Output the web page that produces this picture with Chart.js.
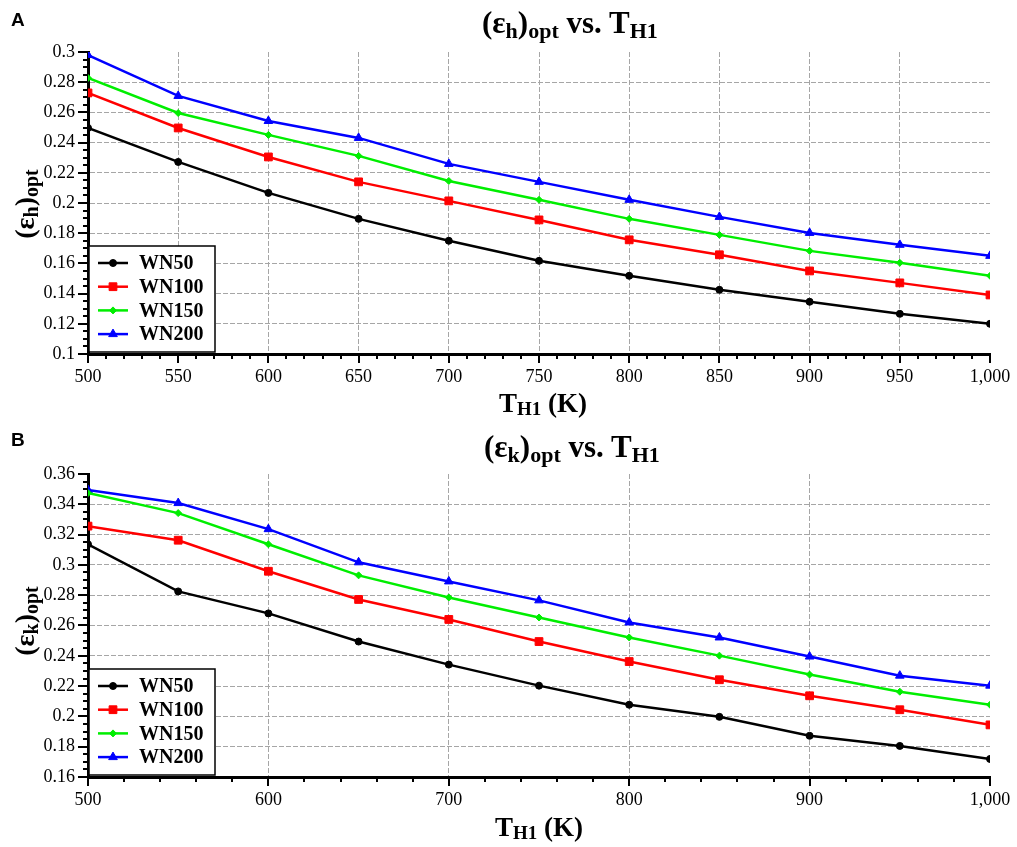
<!DOCTYPE html>
<html>
<head>
<meta charset="utf-8">
<script src="https://cdn.jsdelivr.net/npm/chart.js@4.4.1/dist/chart.umd.min.js"></script>
<style>
  body { margin: 0; background: #fff; }
  #wrap { position: relative; width: 1017px; height: 847px; overflow: hidden; }
  canvas { position: absolute; left: 0; }
  .lbl { position: absolute; white-space: nowrap; font-family: "Liberation Serif", serif; font-weight: bold; line-height: 1; color: #000; }
  .s { position: relative; }
  .panel { position: absolute; font-family: "Liberation Sans", Arial, sans-serif; font-weight: bold; font-size: 19px; line-height: 1; }
  .ytitle { position: absolute; width: 120px; height: 28px; line-height: 28px; text-align: center;
            font-family: "Liberation Serif", serif; font-weight: bold; font-size: 28px; white-space: nowrap;
            transform: translate(-50%, -50%) rotate(-90deg); }
</style>
</head>
<body>
<div id="wrap">
  <canvas id="chartA" width="1017" height="420" style="top:0"></canvas>
  <canvas id="chartB" width="1017" height="427" style="top:420px"></canvas>

  <div class="panel" style="left:11px; top:10px">A</div>
  <div class="lbl" style="left:482px; top:7px; font-size:31px">(ε<span class="s" style="font-size:22px; top:5px">h</span>)<span class="s" style="font-size:22px; top:5px">opt</span> vs. T<span class="s" style="font-size:22px; top:5px">H1</span></div>
  <div class="lbl" style="left:499px; top:390px; font-size:27px">T<span class="s" style="font-size:19px; top:3px">H1</span> (K)</div>
  <div class="ytitle" style="left:25px; top:204px">(ε<span class="s" style="font-size:20px; top:4px">h</span>)<span class="s" style="font-size:20px; top:4px">opt</span></div>

  <div class="panel" style="left:11px; top:430px">B</div>
  <div class="lbl" style="left:484px; top:431px; font-size:31px">(ε<span class="s" style="font-size:22px; top:5px">k</span>)<span class="s" style="font-size:22px; top:5px">opt</span> vs. T<span class="s" style="font-size:22px; top:5px">H1</span></div>
  <div class="lbl" style="left:495px; top:814px; font-size:27px">T<span class="s" style="font-size:19px; top:3px">H1</span> (K)</div>
  <div class="ytitle" style="left:25px; top:621px">(ε<span class="s" style="font-size:20px; top:4px">k</span>)<span class="s" style="font-size:20px; top:4px">opt</span></div>
</div>

<script>
// T_H1 in K
const tempsK = [500, 550, 600, 650, 700, 750, 800, 850, 900, 950, 1000];
const seriesNames = ["WN50", "WN100", "WN150", "WN200"];

// panel A: (eps_h)opt
const epsH_WN50  = [0.2497, 0.2272, 0.2067, 0.1895, 0.1750, 0.1617, 0.1518, 0.1425, 0.1346, 0.1266, 0.1200];
const epsH_WN100 = [0.2729, 0.2497, 0.2305, 0.2140, 0.2014, 0.1888, 0.1756, 0.1657, 0.1550, 0.1471, 0.1391];
const epsH_WN150 = [0.2828, 0.2596, 0.2451, 0.2312, 0.2146, 0.2021, 0.1895, 0.1789, 0.1683, 0.1604, 0.1518];
const epsH_WN200 = [0.2980, 0.2709, 0.2543, 0.2431, 0.2259, 0.2140, 0.2021, 0.1908, 0.1802, 0.1723, 0.1650];

// panel B: (eps_k)opt
const epsK_WN50  = [0.3136, 0.2825, 0.2680, 0.2494, 0.2342, 0.2203, 0.2077, 0.1997, 0.1872, 0.1805, 0.1719];
const epsK_WN100 = [0.3256, 0.3163, 0.2958, 0.2772, 0.2640, 0.2494, 0.2362, 0.2242, 0.2136, 0.2044, 0.1944];
const epsK_WN150 = [0.3474, 0.3342, 0.3136, 0.2931, 0.2785, 0.2653, 0.2521, 0.2401, 0.2276, 0.2163, 0.2077];
const epsK_WN200 = [0.3494, 0.3408, 0.3236, 0.3017, 0.2891, 0.2766, 0.2620, 0.2521, 0.2395, 0.2269, 0.2203];

const colors = ["#000000", "#ff0000", "#00ee00", "#0000ff"];
const markers = ["circle", "rect", "rectRot", "triangle"];
const markerSize = [3.5, 5.5, 3.5, 5];

const serif = "'Liberation Serif', 'Times New Roman', serif";

function makeDatasets(seriesList) {
  return seriesList.map((vals, i) => ({
    label: seriesNames[i],
    data: vals.map((v, j) => ({x: tempsK[j], y: v})),
    borderColor: colors[i],
    backgroundColor: colors[i],
    pointBackgroundColor: colors[i],
    pointBorderColor: colors[i],
    pointStyle: markers[i],
    pointRadius: markerSize[i],
    pointBorderWidth: 1,
    borderWidth: 2.5,
    tension: 0
  }));
}

function drawMarker(ctx, style, r, x, y) {
  if (Chart.helpers && Chart.helpers.drawPoint) {
    Chart.helpers.drawPoint(ctx, {pointStyle: style, radius: r, rotation: 0, borderWidth: 1}, x, y);
  } else {
    ctx.beginPath(); ctx.arc(x, y, r, 0, Math.PI * 2); ctx.fill();
  }
}

// minor / major tick marks drawn outside the axes + legend box inside the plot
const axisDecor = {
  id: 'axisDecor',
  afterDraw(chart, args, opts) {
    const {ctx, chartArea: a, scales: {x, y}} = chart;
    ctx.save();
    ctx.strokeStyle = '#000';
    ctx.lineWidth = 2;
    ctx.beginPath();
    let n = Math.round((x.max - x.min) / opts.xMinor);
    for (let i = 0; i <= n; i++) {
      const px = Math.round(x.getPixelForValue(x.min + i * opts.xMinor));
      const len = i % opts.xRatio === 0 ? 9 : 5;
      ctx.moveTo(px, a.bottom); ctx.lineTo(px, a.bottom + len);
    }
    n = Math.round((y.max - y.min) / opts.yMinor);
    for (let i = 0; i <= n; i++) {
      const py = Math.round(y.getPixelForValue(y.min + i * opts.yMinor));
      const len = i % opts.yRatio === 0 ? 10 : 5;
      ctx.moveTo(a.left, py); ctx.lineTo(a.left - len, py);
    }
    ctx.stroke();

    // legend
    const bx = a.left + 1, bw = 126, bh = 106, by = a.bottom - 2 - bh;
    ctx.fillStyle = '#fff';
    ctx.fillRect(bx, by, bw, bh);
    ctx.lineWidth = 1.5;
    ctx.strokeRect(bx, by, bw, bh);
    ctx.font = "bold 20px " + serif;
    ctx.textBaseline = 'middle';
    ctx.textAlign = 'left';
    chart.data.datasets.forEach((ds, i) => {
      const ry = by + 17 + i * 23.7;
      ctx.strokeStyle = ds.borderColor;
      ctx.fillStyle = ds.borderColor;
      ctx.lineWidth = 2.5;
      ctx.beginPath(); ctx.moveTo(bx + 9, ry); ctx.lineTo(bx + 39, ry); ctx.stroke();
      ctx.lineWidth = 1;
      drawMarker(ctx, ds.pointStyle, ds.pointRadius, bx + 24, ry);
      ctx.fillStyle = '#000';
      ctx.fillText(ds.label, bx + 50, ry + 1);
    });
    ctx.restore();
  }
};

function gridColor(c) {
  const last = c.scale.ticks.length - 1;
  return (c.index === 0 || c.index === last) ? 'rgba(0,0,0,0)' : '#a6a6a6';
}

function createPanel(canvasId, seriesList, cfg) {
  return new Chart(document.getElementById(canvasId), {
    type: 'line',
    data: {datasets: makeDatasets(seriesList)},
    plugins: [axisDecor],
    options: {
      responsive: false,
      animation: false,
      layout: {padding: {left: 28, right: 27, top: cfg.top, bottom: 0}},
      plugins: {
        legend: {display: false},
        tooltip: {enabled: false},
        axisDecor: {xMinor: cfg.xMinor, xRatio: cfg.xStep / cfg.xMinor, yMinor: 0.005, yRatio: 4}
      },
      scales: {
        x: {
          type: 'linear',
          min: 500, max: 1000,
          afterFit: s => { s.height = cfg.xHeight; s.paddingRight = 0; s.paddingLeft = 0; },
          ticks: {stepSize: cfg.xStep, padding: 12, color: '#000', font: {family: serif, size: 18},
                  callback: v => v.toLocaleString('en-US')},
          grid: {color: gridColor, lineWidth: 1, drawTicks: false},
          border: {display: true, color: '#000', width: 3, dash: [5, 2]}
        },
        y: {
          min: cfg.yMin, max: cfg.yMax,
          afterFit: s => { s.width = 60; },
          ticks: {stepSize: 0.02, padding: 13, color: '#000', font: {family: serif, size: 18},
                  callback: v => String(+v.toFixed(3))},
          grid: {color: gridColor, lineWidth: 1, drawTicks: false},
          border: {display: true, color: '#000', width: 3, dash: [5, 2]}
        }
      }
    }
  });
}

createPanel('chartA', [epsH_WN50, epsH_WN100, epsH_WN150, epsH_WN200],
            {top: 52, xHeight: 66, xStep: 50, xMinor: 10, yMin: 0.1, yMax: 0.3});
createPanel('chartB', [epsK_WN50, epsK_WN100, epsK_WN150, epsK_WN200],
            {top: 54, xHeight: 70, xStep: 100, xMinor: 20, yMin: 0.16, yMax: 0.36});
</script>
</body>
</html>
